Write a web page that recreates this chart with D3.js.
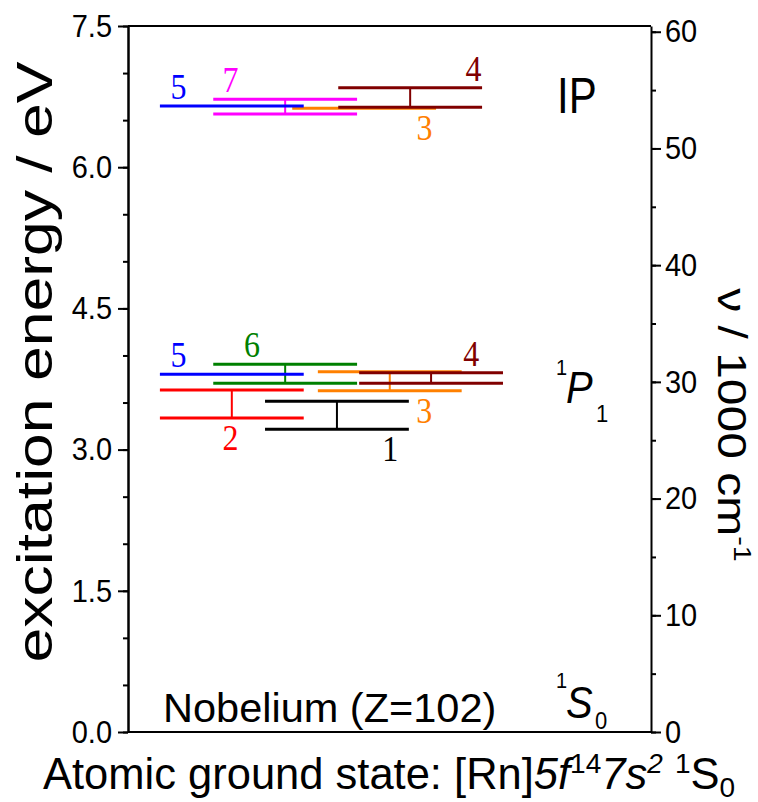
<!DOCTYPE html>
<html>
<head>
<meta charset="utf-8">
<script src="https://cdn.jsdelivr.net/npm/d3@7"></script>
<style>
  body { margin: 0; background: #fff; }
  svg { display: block; }
</style>
</head>
<body>
<div id="vis"></div>
<script>
// Nobelium level scheme: calculated excitation energies (eV) per method,
// each method given as a [low, high] band (equal values = single level)
const ipMethods = ['7', '3', '4', '5'];
const ipLow  = [6.565, 6.626, 6.637, 6.650];
const ipHigh = [6.722, 6.626, 6.845, 6.650];

const p1Methods = ['1', '2', '6', '3', '4', '5'];
const p1Low  = [3.216, 3.336, 3.704, 3.626, 3.704, 3.800];
const p1High = [3.513, 3.633, 3.906, 3.828, 3.817, 3.800];

const energyTicks = [0, 1.5, 3.0, 4.5, 6.0, 7.5];
const wavenumberTicks = [0, 10, 20, 30, 40, 50, 60];
const EV_TO_KCM = 8.0655; // 1 eV = 8065.5 cm-1

// ---- layout ----
var width = 758, height = 802;
var frame = { left: 128, right: 651, top: 26, bottom: 732 };
var sans = 'Liberation Sans, Arial, sans-serif';
var serif = 'Liberation Serif, Times New Roman, serif';

var colors = { '1': '#000000', '2': '#ff0000', '3': '#ff8000', '4': '#800000',
               '5': '#0000ff', '6': '#008000', '7': '#ff00ff' };

// column start (x units 0-100 across the frame), label spot along the bar, label side
var barSpan = 27.5;
var ipLayout = { '7': [16.3, 0.12, 'above'], '3': [31.4, 0.92, 'below'],
                 '4': [40.2, 0.94, 'above'], '5': [6.1, 0.13, 'above'] };
var p1Layout = { '1': [26.2, 0.87, 'below'], '2': [6.1, 0.49, 'below'],
                 '6': [16.3, 0.27, 'above'], '3': [36.3, 0.74, 'below'],
                 '4': [44.2, 0.78, 'above'], '5': [6.1, 0.13, 'above'] };

var svg = d3.select('#vis').append('svg')
  .attr('width', width)
  .attr('height', height);

var x = d3.scaleLinear().domain([0, 100]).range([frame.left, frame.right]);
var y = d3.scaleLinear().domain([0, 7.5]).range([frame.bottom, frame.top]);
var nu = d3.scaleLinear().domain([0, 7.5 * EV_TO_KCM]).range([frame.bottom, frame.top]);

// text helper: the original graph is stretched a bit vertically
function stretchedText(parent, px, py, sx, sy, rot) {
  return parent.append('text')
    .attr('transform', 'translate(' + px + ',' + py + ')' + (rot ? ' rotate(' + rot + ')' : '') +
      ' scale(' + sx + ',' + sy + ')');
}

// ---- axes ----
function styleAxis(g) {
  g.attr('font-size', null).attr('font-family', null);
  g.selectAll('path, line').attr('stroke', '#000').attr('stroke-width', 2);
  g.selectAll('text')
    .attr('fill', '#000')
    .style('font-family', sans)
    .style('font-size', '29px');
}

var leftMinor = d3.axisLeft(y).tickValues(d3.range(0, 7.6, 0.5)).tickSize(5).tickSizeOuter(0).tickFormat('');
var leftMajor = d3.axisLeft(y).tickValues(energyTicks).tickSize(10).tickSizeOuter(0)
  .tickPadding(6).tickFormat(d3.format('.1f'));
svg.append('g').attr('transform', 'translate(' + frame.left + ',0)').call(leftMinor).call(styleAxis);
svg.append('g').attr('transform', 'translate(' + frame.left + ',0)').call(leftMajor).call(styleAxis);

var rightMinor = d3.axisRight(nu).tickValues(d3.range(0, 61, 5)).tickSize(5).tickSizeOuter(0).tickFormat('');
var rightMajor = d3.axisRight(nu).tickValues(wavenumberTicks).tickSize(10).tickSizeOuter(0).tickPadding(4);
svg.append('g').attr('transform', 'translate(' + frame.right + ',0)').call(rightMinor).call(styleAxis)
  .select('.domain').remove();
svg.append('g').attr('transform', 'translate(' + frame.right + ',0)').call(rightMajor).call(styleAxis);

// stretch tick labels vertically
svg.selectAll('.tick text').attr('transform', 'scale(1,1.1)');

// top and bottom frame
svg.append('line').attr('x1', frame.left).attr('x2', frame.right)
  .attr('y1', frame.top).attr('y2', frame.top).attr('stroke', '#000').attr('stroke-width', 2);
svg.append('line').attr('x1', frame.left).attr('x2', frame.right)
  .attr('y1', frame.bottom).attr('y2', frame.bottom).attr('stroke', '#000').attr('stroke-width', 2);

// ---- energy levels ----
function drawLevels(methods, low, high, layout) {
  var rows = methods.map(function (m, i) {
    return { m: m, lo: low[i], hi: high[i], col: layout[m] };
  });
  var g = svg.append('g');

  rows.forEach(function (d) {
    var x0 = x(d.col[0]), x1 = x(d.col[0] + barSpan), xm = (x0 + x1) / 2;
    var c = colors[d.m];
    var levels = d.lo === d.hi ? [d.lo] : [d.lo, d.hi];

    g.selectAll(null).data(levels).enter().append('line')
      .attr('x1', x0).attr('x2', x1)
      .attr('y1', function (e) { return y(e); })
      .attr('y2', function (e) { return y(e); })
      .attr('stroke', c).attr('stroke-width', 3);

    if (d.lo !== d.hi) {
      g.append('line')
        .attr('x1', xm).attr('x2', xm)
        .attr('y1', y(d.hi)).attr('y2', y(d.lo))
        .attr('stroke', c).attr('stroke-width', 2);
    }

    var lx = x0 + (x1 - x0) * d.col[1];
    var ly = d.col[2] === 'above' ? y(d.hi) - 7 : y(d.lo) + 32;
    stretchedText(g, lx, ly, 1, 1.1, 0)
      .attr('text-anchor', 'middle')
      .style('font-family', serif)
      .style('font-size', '32px')
      .attr('fill', c)
      .text(d.m);
  });
}

drawLevels(ipMethods, ipLow, ipHigh, ipLayout);
drawLevels(p1Methods, p1Low, p1High, p1Layout);

// ---- state labels ----
var lab = svg.append('g').style('font-family', sans).attr('fill', '#000');

stretchedText(lab, 557, 113, 1, 1.2, 0).style('font-size', '42px').text('IP');

stretchedText(lab, 556, 375, 1, 1.1, 0).style('font-size', '20px').text('1');
stretchedText(lab, 566, 403, 1, 1.1, 0).style('font-size', '40px').style('font-style', 'italic').text('P');
stretchedText(lab, 596, 422, 1, 1.1, 0).style('font-size', '22px').text('1');

stretchedText(lab, 556, 688, 1, 1.1, 0).style('font-size', '20px').text('1');
stretchedText(lab, 566, 718, 1, 1.1, 0).style('font-size', '40px').style('font-style', 'italic').text('S');
stretchedText(lab, 595, 729, 1, 1.1, 0).style('font-size', '22px').text('0');

lab.append('text').attr('x', 163).attr('y', 722).style('font-size', '41.5px').text('Nobelium (Z=102)');

// ---- axis titles ----
stretchedText(lab, 52, 362, 1.25, 1, -90)
  .attr('text-anchor', 'middle')
  .style('font-size', '50px')
  .text('excitation energy / eV');

var rt = stretchedText(lab, 718, 425, 1.2, 1, 90)
  .attr('text-anchor', 'middle')
  .style('font-size', '40px');
rt.append('tspan').text('\u03bd / 1000 cm');
rt.append('tspan').attr('dy', -16).style('font-size', '24px').text('-1');

var bt = lab.append('text').attr('x', 43).attr('y', 789).style('font-size', '43.5px');
bt.append('tspan').text('Atomic ground state: [Rn]');
bt.append('tspan').style('font-style', 'italic').text('5f');
bt.append('tspan').attr('dy', -16).style('font-size', '28px').text('14');
bt.append('tspan').attr('dy', 16).style('font-style', 'italic').text('7s');
bt.append('tspan').attr('dy', -16).style('font-size', '28px').style('font-style', 'italic').text('2');
bt.append('tspan').attr('dy', 16).text(' ');
bt.append('tspan').attr('dy', -16).style('font-size', '28px').text('1');
bt.append('tspan').attr('dy', 16).text('S');
bt.append('tspan').attr('dy', 8).style('font-size', '28px').text('0');
</script>
</body>
</html>
